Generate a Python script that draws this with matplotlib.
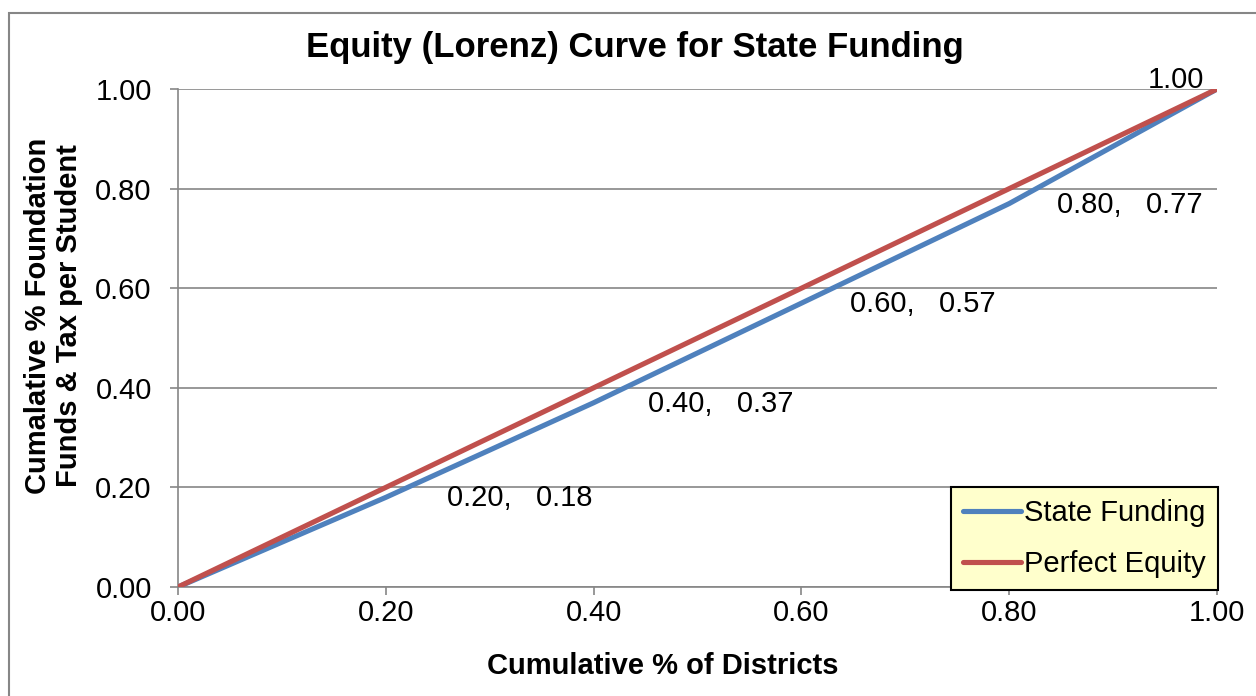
import matplotlib.pyplot as plt
from matplotlib.patches import Rectangle

plt.rcParams['font.family'] = ['Liberation Sans', 'DejaVu Sans']

# data
districts = [0.0, 0.2, 0.4, 0.6, 0.8, 1.0]
state_funding = [0.0, 0.18, 0.37, 0.57, 0.77, 1.0]
equity_x = [0.0, 1.0]
equity_y = [0.0, 1.0]
ticks = [0.0, 0.2, 0.4, 0.6, 0.8, 1.0]

# horizontal offset (pixels) of each data label from its point
label_dx = [61, 54, 49, 48]

fig = plt.figure(figsize=(12.56, 6.96), dpi=100)
ax = fig.add_axes([0.1417, 0.1566, 0.9690 - 0.1417, 0.8721 - 0.1566])

grey = '#868686'
ax.plot(districts, state_funding, color='#4F81BD', lw=3.7, label='State Funding',
        solid_capstyle='round', zorder=3)
ax.plot(equity_x, equity_y, color='#C0504D', lw=3.7, label='Perfect Equity',
        solid_capstyle='round', zorder=4)

# data labels
for x, y, dx in zip(districts[1:-1], state_funding[1:-1], label_dx):
    ax.annotate(f'{x:.2f},   {y:.2f}', (x, y), xytext=(dx, -1),
                textcoords='offset pixels', ha='left', va='center', fontsize=21)
ax.annotate(f'{state_funding[-1]:.2f}', (1.0, 1.0), xytext=(-13, 9),
            textcoords='offset pixels', ha='right', va='center', fontsize=21)

ax.set_xlim(0, 1)
ax.set_ylim(0, 1)
ax.set_xticks(ticks)
ax.set_yticks(ticks)
ax.set_xticklabels([f'{t:.2f}' for t in ticks])
ax.set_yticklabels([f'{t:.2f}' for t in ticks])
ax.tick_params(labelsize=21, color=grey, length=5.8, width=1.2)
ax.tick_params(axis='x', pad=3)
ax.tick_params(axis='y', pad=13)
ax.yaxis.grid(True, color=grey, lw=1.2)
ax.set_axisbelow(True)
for s in ['top', 'right']:
    ax.spines[s].set_visible(False)
for s in ['left', 'bottom']:
    ax.spines[s].set_color(grey)
    ax.spines[s].set_linewidth(1.2)

fig.text(635 / 1256, 1 - 57 / 696, 'Equity (Lorenz) Curve for State Funding',
         fontsize=25, fontweight='bold', ha='center', va='baseline')
fig.text(663 / 1256, 1 - 674 / 696, 'Cumulative % of Districts', fontsize=21,
         fontweight='bold', ha='center', va='baseline')
fig.text(53.5 / 1256, 1 - 316 / 696, 'Cumalative % Foundation\nFunds & Tax per Student',
         fontsize=21, fontweight='bold', ha='center', va='center', rotation=90,
         multialignment='center', linespacing=1.15)

leg = ax.legend(loc='lower right', bbox_to_anchor=(1.001, -0.006), fontsize=21,
                frameon=True, fancybox=False, handlelength=2.0, handletextpad=0.1,
                borderpad=0.42, labelspacing=0.78, borderaxespad=0)
leg.get_frame().set_facecolor('#FFFFCC')
leg.get_frame().set_edgecolor('black')
leg.get_frame().set_linewidth(1.5)
leg.get_frame().set_alpha(1)

# outer chart border
fig.patches.append(Rectangle((9 / 1256, -0.01), 1.0, 1 - 13 / 696 + 0.01,
                             transform=fig.transFigure, fill=False,
                             edgecolor=grey, lw=1.5))

fig.savefig('out.png', dpi=100)
